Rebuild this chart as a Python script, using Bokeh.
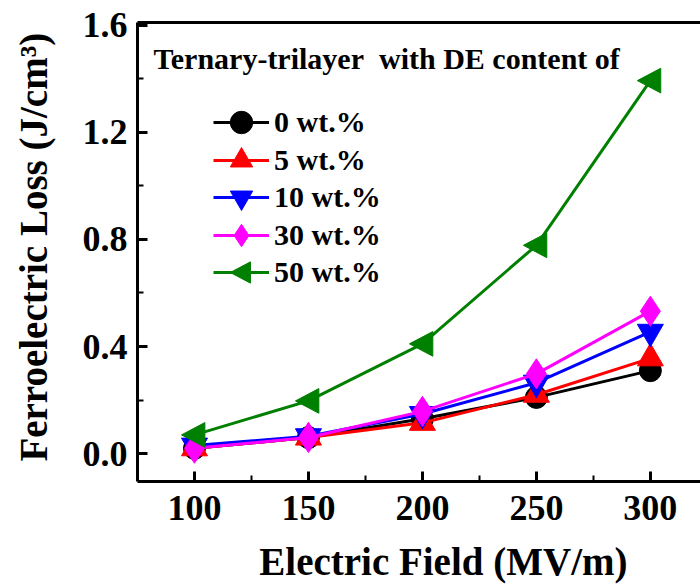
from bokeh.plotting import figure
from bokeh.models import (Range1d, FixedTicker, LinearAxis, Legend, LegendItem, Label,
                          CustomJSTickFormatter, CustomJS)
from bokeh.embed import file_html
from bokeh.resources import INLINE

field = [100, 150, 200, 250, 300]
loss_0 = [0.02, 0.06, 0.13, 0.21, 0.31]
loss_5 = [0.02, 0.06, 0.115, 0.22, 0.356]
loss_10 = [0.03, 0.065, 0.148, 0.265, 0.455]
loss_30 = [0.02, 0.06, 0.158, 0.298, 0.532]
loss_50 = [0.07, 0.197, 0.41, 0.778, 1.393]
series_labels = ["0 wt.%", "5 wt.%", "10 wt.%", "30 wt.%", "50 wt.%"]
x_ticks = [100, 150, 200, 250, 300]
x_minor = [125, 175, 225, 275]
y_ticks = [0.0, 0.4, 0.8, 1.2, 1.6]
y_minor = [0.2, 0.6, 1.0, 1.4]
legend_title = "Ternary-trilayer\u00a0\u00a0with DE content of"
x_title = "Electric Field (MV/m)"
y_title = "Ferroelectric Loss (J/cm\u00b3)"

FONT = "Liberation Serif"

p = figure(width=700, height=585, output_backend="svg", toolbar_location=None,
           x_range=Range1d(75, 322), y_range=Range1d(-0.104, 1.61),
           min_border_left=137, min_border_right=0, min_border_top=22, min_border_bottom=104)
p.outline_line_color = None
p.grid.visible = False
p.background_fill_color = "white"

for ax in (p.xaxis[0], p.yaxis[0]):
    ax.axis_line_width = 3
    ax.major_tick_line_width = 3
    ax.minor_tick_line_width = 2
    ax.major_tick_in = 10
    ax.major_tick_out = 0
    ax.minor_tick_in = 6
    ax.minor_tick_out = 0
    ax.major_label_text_font = FONT
    ax.major_label_text_font_style = "bold"
    ax.major_label_text_font_size = "36px"
    ax.major_label_text_color = "black"
    ax.axis_label_text_font = FONT
    ax.axis_label_text_font_style = "bold"
    ax.axis_label_text_font_size = "39px"
    ax.axis_label_text_color = "black"

p.xaxis.ticker = FixedTicker(ticks=x_ticks, minor_ticks=x_minor)
p.yaxis.ticker = FixedTicker(ticks=y_ticks, minor_ticks=y_minor)
p.yaxis.formatter = CustomJSTickFormatter(code="return tick.toFixed(1);")
# leading no-break spaces shift the centred title to the right, as in the reference
p.xaxis.axis_label = "\u00a0" * 5 + x_title
p.yaxis.axis_label = "\u00a0" + y_title
p.xaxis.major_label_standoff = 14
p.yaxis.major_label_standoff = 10
p.xaxis.axis_label_standoff = 17
p.yaxis.axis_label_standoff = 25

top = LinearAxis(ticker=FixedTicker(ticks=[], minor_ticks=[]),
                 major_tick_line_color=None, minor_tick_line_color=None,
                 major_label_standoff=0, major_tick_out=0, major_tick_in=0,
                 axis_line_width=3)
p.add_layout(top, "above")

tri_left_js = CustomJS(code="""
let a = null;
for (const c of [cb_data, cb_context, cb_obj]) {
  if (c != null && c.ctx != null) { a = c; break; }
}
if (a == null) return;
const ctx = a.ctx;
const r = a.r;
ctx.beginPath();
ctx.moveTo(-r, 0);
ctx.lineTo(0.8 * r, -0.95 * r);
ctx.lineTo(0.8 * r, 0.95 * r);
ctx.closePath();
ctx.fillStyle = "#008000";
ctx.fill();
ctx.strokeStyle = "#008000";
ctx.lineWidth = 1;
ctx.stroke();
""")

colors = ["black", "#ff0000", "#0000ff", "#ff00ff", "#008000"]
data = [loss_0, loss_5, loss_10, loss_30, loss_50]
markers = ["circle", "triangle", "inverted_triangle", "diamond", "@tri_left"]
sizes = [22, 26, 26, 30, 26]
legend_bottoms = [330, 292, 255, 217, 180]

for lab, ys, c, m, s, lb in zip(series_labels, data, colors, markers, sizes, legend_bottoms):
    ln = p.line(field, ys, line_color=c, line_width=3)
    kw = {}
    if m.startswith("@"):
        kw["defs"] = {m: tri_left_js}
    sc = p.scatter(field, ys, marker=m, size=s, fill_color=c, line_color=c, **kw)
    lg = Legend(items=[LegendItem(label=lab, renderers=[ln, sc])], location=(76, lb),
                label_text_font=FONT, label_text_font_style="bold",
                label_text_font_size="30px", label_text_color="black",
                glyph_width=56, glyph_height=58, spacing=0, padding=0, margin=0,
                label_standoff=5, border_line_color=None, background_fill_alpha=0)
    p.add_layout(lg, "center")

p.add_layout(Label(x=16, y=423, x_units="screen", y_units="screen",
                   text=legend_title, text_font=FONT, text_font_style="bold",
                   text_font_size="30px", text_color="black", text_baseline="alphabetic"))

open("out.html", "w").write(file_html(p, INLINE))
